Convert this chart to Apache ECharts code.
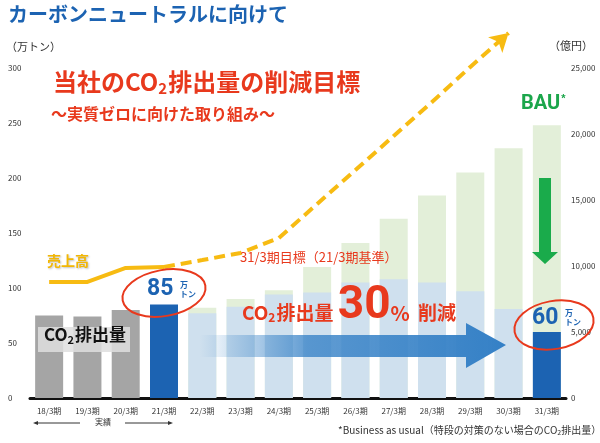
<!DOCTYPE html>
<html>
<head>
<meta charset="utf-8">
<script src="https://cdn.jsdelivr.net/npm/echarts@6/dist/echarts.min.js"></script>
<style>
  html, body { margin: 0; padding: 0; background: #fff; }
  #chart { width: 600px; height: 443px; }
</style>
</head>
<body>
<div id="chart"></div>
<script>
// 期ごとの値
const categories = ['18/3期', '19/3期', '20/3期', '21/3期', '22/3期', '23/3期', '24/3期',
  '25/3期', '26/3期', '27/3期', '28/3期', '29/3期', '30/3期', '31/3期'];
// CO2排出量（万トン）：実績 18〜21、目標 22〜31
const co2Values = [75, 74, 80, 85, 77, 83, 94, 96, 105, 108, 105, 97, 81, 60];
// BAU（万トン）
const bauValues = [null, null, null, null, 82, 90, 98, 119, 141, 163, 184, 205, 227, 248];
// 売上高（億円）
const salesActual = [8790, 8790, 9850, 9920, null, null, null, null, null, null, null, null, null, null];
const salesPlan = [null, null, null, 9920, 10450, 10990, 12120, 14700, 17270, 19850, 22420, 25080, 27650, null];
const leftTicks = [0, 300, 50];
const rightTicks = [0, 25000, 5000];

const FONT = '"Noto Sans CJK JP", "Noto Sans", sans-serif';
const RED = '#e8391d';
const BLUE = '#1c63b2';
const GOLD = '#f7bb12';

const co2Color = (i) => {
  if (i < 3) return '#a5a5a5';
  if (i === 3 || i === categories.length - 1) return BLUE;
  return '#cfe0ee';
};

// 売上高の矢印（最後の点）
const planData = salesPlan.map((v, i) => {
  if (i === 12) return { value: v, symbol: 'arrow', symbolSize: [16, 18], symbolRotate: -48 };
  return v;
});

const chart = echarts.init(document.getElementById('chart'));

const option = {
  animation: false,
  textStyle: { fontFamily: FONT },
  grid: { left: 30, right: 34, top: 68, bottom: 45 },
  xAxis: {
    type: 'category',
    data: categories,
    axisLine: { lineStyle: { color: '#111', width: 3 } },
    axisTick: { show: false },
    axisLabel: { color: '#333', fontSize: 8, margin: 9, fontFamily: FONT }
  },
  yAxis: [
    {
      type: 'value', min: leftTicks[0], max: leftTicks[1], interval: leftTicks[2],
      axisLine: { show: false }, axisTick: { show: false }, splitLine: { show: false },
      axisLabel: { color: '#333', fontSize: 8, align: 'left', margin: 22 }
    },
    {
      type: 'value', min: rightTicks[0], max: rightTicks[1], interval: rightTicks[2],
      axisLine: { show: false }, axisTick: { show: false }, splitLine: { show: false },
      axisLabel: { color: '#333', fontSize: 8, margin: 5,
        formatter: (v) => v.toLocaleString('en-US') }
    }
  ],
  series: [
    {
      name: 'BAU', type: 'bar', data: bauValues, barWidth: 28, barGap: '-100%',
      itemStyle: { color: '#e3efd9' }, z: 1
    },
    {
      name: 'CO2', type: 'bar', barWidth: 28, barGap: '-100%',
      data: co2Values.map((v, i) => ({ value: v, itemStyle: { color: co2Color(i) } })),
      z: 2
    },
    {
      name: '売上高', type: 'line', yAxisIndex: 1, data: salesActual,
      symbol: 'none', lineStyle: { color: GOLD, width: 4 }, z: 3
    },
    {
      name: '売上高計画', type: 'line', yAxisIndex: 1, data: planData, clip: false,
      symbol: 'none', showSymbol: true,
      itemStyle: { color: GOLD },
      lineStyle: { color: GOLD, width: 4, type: [11, 6] }, z: 3
    }
  ],
  graphic: [
    { type: 'text', left: 8, top: 4, z: 20,
      style: { text: 'カーボンニュートラルに向けて', fill: BLUE, font: 'bold 20px ' + FONT } },
    { type: 'text', left: 6, top: 41, z: 20,
      style: { text: '（万トン）', fill: '#333', font: '11px ' + FONT } },
    { type: 'text', left: 549, top: 40, z: 20,
      style: { text: '（億円）', fill: '#333', font: '11px ' + FONT } },
    { type: 'text', left: 53, top: 70, z: 20,
      style: {
        text: '{a|当社のCO}{s|2}{a|排出量の削減目標}',
        rich: {
          a: { fill: RED, fontSize: 24, fontWeight: 'bold', fontFamily: FONT },
          s: { fill: RED, fontSize: 15, fontWeight: 'bold', fontFamily: FONT, padding: [12, 1, 0, 0] }
        }
      } },
    { type: 'text', left: 51, top: 106, z: 20,
      style: { text: '〜実質ゼロに向けた取り組み〜', fill: RED, font: 'bold 16px ' + FONT } },
    { type: 'text', left: 521, top: 93, z: 20,
      style: {
        text: '{a|BAU}{s|*}',
        rich: {
          a: { fill: '#1ba64b', fontSize: 20, fontWeight: 'bold', fontFamily: 'Roboto, ' + FONT },
          s: { fill: '#1ba64b', fontSize: 11, fontWeight: 'bold', padding: [0, 0, 10, 1] }
        }
      } },
    // BAUからの緑の下向き矢印
    { type: 'polygon', z: 20,
      shape: { points: [[539, 178], [551, 178], [551, 252], [558, 252], [545, 264], [532, 252], [539, 252]] },
      style: { fill: '#1aab4b' } },
    { type: 'text', left: 47, top: 254, z: 20,
      style: { text: '売上高', fill: '#f2b705', font: 'bold 14px ' + FONT,
        textShadowColor: 'rgba(0,0,0,0.25)', textShadowBlur: 2, textShadowOffsetX: 1, textShadowOffsetY: 1 } },
    { type: 'text', left: 240, top: 251, z: 20,
      style: { text: '31/3期目標（21/3期基準）', fill: RED, font: '13px ' + FONT } },
    // 大きな青い矢印
    { type: 'polygon', z: 20,
      shape: { points: [[200, 335], [466, 335], [466, 323], [506, 345], [466, 368], [466, 357], [200, 357]] },
      style: {
        fill: {
          type: 'linear', x: 200, y: 0, x2: 506, y2: 0, global: true,
          colorStops: [
            { offset: 0, color: 'rgba(58,132,200,0)' },
            { offset: 0.35, color: 'rgba(58,132,200,0.8)' },
            { offset: 1, color: 'rgba(52,128,198,1)' }
          ]
        }
      } },
    { type: 'text', left: 242, top: 283, z: 21,
      style: {
        text: '{a|CO}{s|2}{a|排出量 }{b|30}{c|%}{a| 削減}',
        rich: {
          a: { fill: RED, fontSize: 19, fontWeight: 'bold', fontFamily: FONT, padding: [14, 0, 0, 0] },
          s: { fill: RED, fontSize: 12, fontWeight: 'bold', fontFamily: FONT, padding: [22, 1, 0, 0] },
          b: { fill: RED, fontSize: 46, fontWeight: 'bold', fontFamily: 'Roboto, ' + FONT },
          c: { fill: RED, fontSize: 20, fontWeight: 'bold', fontFamily: FONT, padding: [14, 4, 0, 0] }
        }
      } },
    // 実績の CO2排出量 ラベル
    { type: 'rect', z: 20, shape: { x: 38, y: 327, width: 92, height: 25 },
      style: { fill: 'rgba(222,222,222,0.85)' } },
    { type: 'text', left: 44, top: 326, z: 21,
      style: {
        text: '{a|CO}{s|2}{a|排出量}',
        rich: {
          a: { fill: '#111', fontSize: 17, fontWeight: 'bold', fontFamily: FONT },
          s: { fill: '#111', fontSize: 11, fontWeight: 'bold', fontFamily: FONT, padding: [10, 1, 0, 0] }
        }
      } },
    // 85万トン
    { type: 'text', left: 147, top: 278, z: 21,
      style: { text: '85', fill: BLUE, font: 'bold 23px Roboto, ' + FONT } },
    { type: 'text', left: 180, top: 280, z: 21,
      style: { text: '万\nトン', fill: BLUE, font: 'bold 8px ' + FONT, lineHeight: 9, align: 'center', x: 8 } },
    { type: 'ellipse', z: 21, rotation: 0.18, originX: 164, originY: 293,
      shape: { cx: 164, cy: 293, rx: 42, ry: 23 },
      style: { fill: 'none', stroke: RED, lineWidth: 2 } },
    // 60万トン
    { type: 'text', left: 532, top: 307, z: 21,
      style: { text: '60', fill: BLUE, font: 'bold 23px Roboto, ' + FONT } },
    { type: 'text', left: 565, top: 308, z: 21,
      style: { text: '万\nトン', fill: BLUE, font: 'bold 8px ' + FONT, lineHeight: 9, align: 'center', x: 8 } },
    { type: 'ellipse', z: 21, rotation: 0.18, originX: 554, originY: 325,
      shape: { cx: 554, cy: 325, rx: 40, ry: 24 },
      style: { fill: 'none', stroke: RED, lineWidth: 2 } },
    // 実績の矢印
    { type: 'line', z: 20, shape: { x1: 36, y1: 423, x2: 80, y2: 423 }, style: { stroke: '#333', lineWidth: 1 } },
    { type: 'polygon', z: 20, shape: { points: [[33, 423], [38, 421], [38, 425]] }, style: { fill: '#333' } },
    { type: 'line', z: 20, shape: { x1: 125, y1: 423, x2: 169, y2: 423 }, style: { stroke: '#333', lineWidth: 1 } },
    { type: 'polygon', z: 20, shape: { points: [[173, 423], [168, 421], [168, 425]] }, style: { fill: '#333' } },
    { type: 'text', left: 95, top: 418, z: 20,
      style: { text: '実績', fill: '#333', font: '8px ' + FONT } },
    { type: 'text', left: 338, top: 425, z: 20,
      style: {
        text: '{a|*Business as usual（特段の対策のない場合のCO}{s|2}{a|排出量）}',
        rich: {
          a: { fill: '#333', fontSize: 10, fontFamily: FONT },
          s: { fill: '#333', fontSize: 7, fontFamily: FONT, padding: [4, 0, 0, 0] }
        }
      } }
  ]
};

chart.setOption(option);
</script>
</body>
</html>
